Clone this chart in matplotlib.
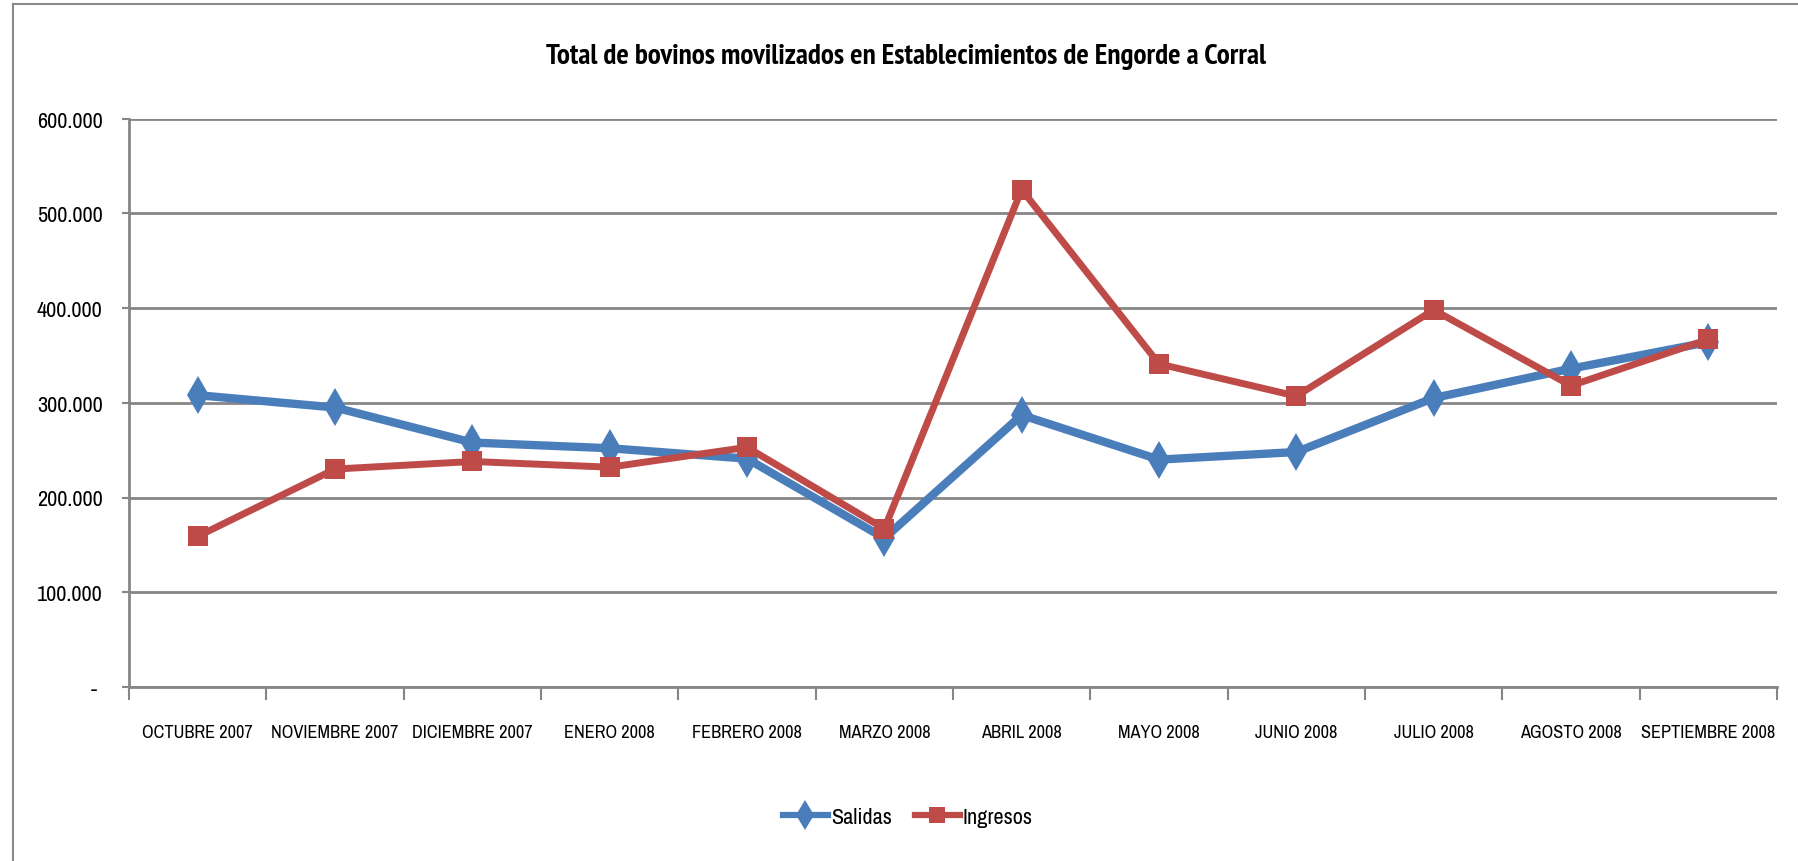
import matplotlib
matplotlib.use("Agg")
import matplotlib.pyplot as plt
from matplotlib import font_manager
from matplotlib.font_manager import FontProperties
from matplotlib.lines import Line2D
from matplotlib.ticker import FuncFormatter

categories = ["OCTUBRE 2007", "NOVIEMBRE 2007", "DICIEMBRE 2007", "ENERO 2008",
              "FEBRERO 2008", "MARZO 2008", "ABRIL 2008", "MAYO 2008",
              "JUNIO 2008", "JULIO 2008", "AGOSTO 2008", "SEPTIEMBRE 2008"]
salidas = [308000, 295000, 258000, 252000, 241000, 157000,
           287000, 240000, 248000, 305000, 336000, 364000]
ingresos = [159000, 230000, 238000, 232000, 253000, 167000,
            525000, 341000, 307000, 398000, 318000, 367000]
yticks = [0, 100000, 200000, 300000, 400000, 500000, 600000]


def find_narrow(bold):
    best = None
    for e in font_manager.fontManager.ttflist:
        tag = (e.name + " " + e.fname).lower()
        narrow = ("narrow" in tag or "condensed" in tag or
                  str(e.stretch) in ("condensed", "semi-condensed", "extra-condensed"))
        if not narrow or e.style != "normal":
            continue
        w = e.weight if isinstance(e.weight, int) else (700 if "bold" in str(e.weight) else 400)
        if bold != (w >= 600):
            continue
        score = 0
        if "liberation" in tag:
            score += 3
        if "narrow" in tag:
            score += 2
        if "semi" in tag or "extra" in tag or "ultra" in tag:
            score -= 2
        if best is None or score > best[0]:
            best = (score, e.fname)
    return best[1] if best else None


reg_file = find_narrow(False)
bold_file = find_narrow(True)


def fp(size, bold=False):
    f = bold_file if bold else reg_file
    if f:
        return FontProperties(fname=f, size=size)
    return FontProperties(family=["Liberation Sans", "DejaVu Sans"], size=size * 0.86,
                          weight="bold" if bold else "normal")


W, H = 1798, 862
fig = plt.figure(figsize=(W / 100, H / 100), dpi=100)
ax = fig.add_axes([129 / W, 1 - 688 / H, (1777 - 129) / W, (688 - 119.5) / H])

x = list(range(len(categories)))
blue = "#4A7EBB"
red = "#BE4B48"
ax.plot(x, salidas, color=blue, lw=6, marker="d", markersize=19,
        markeredgewidth=0, zorder=3, solid_joinstyle="miter")
ax.plot(x, ingresos, color=red, lw=5, marker="s", markersize=14.5,
        markeredgewidth=0, zorder=4, solid_joinstyle="miter")

ax.set_xlim(-0.5, len(categories) - 0.5)
ax.set_ylim(0, 600000)
ax.set_yticks(yticks)


def fmt(v, pos):
    if v == 0:
        return "- "
    return f"{int(v):,}".replace(",", ".")


ax.yaxis.set_major_formatter(FuncFormatter(fmt))
ax.set_xticks([i + 0.5 for i in range(-1, len(categories))], minor=False)
ax.set_xticklabels([""] * (len(categories) + 1))
ax.set_xticks(x, minor=True)
ax.set_xticklabels(categories, minor=True)
ax.tick_params(axis="x", which="major", length=9, width=1.5, color="#868686", direction="out")
ax.tick_params(axis="x", which="minor", length=0, pad=27)
ax.tick_params(axis="y", length=5, width=1.5, color="#868686", pad=14)
for lbl in ax.get_xticklabels(minor=True):
    lbl.set_fontproperties(fp(13.2))
for lbl in ax.get_yticklabels():
    lbl.set_fontproperties(fp(16))

ax.grid(axis="y", color="#868686", lw=2)
ax.set_axisbelow(True)
for s in ["top", "right"]:
    ax.spines[s].set_visible(False)
for s in ["left", "bottom"]:
    ax.spines[s].set_color("#868686")
    ax.spines[s].set_linewidth(2)

fig.text(906 / W, 1 - 57 / H, "Total de bovinos movilizados en Establecimientos de Engorde a Corral",
         ha="center", va="center", fontproperties=fp(21, bold=True))

handles = [Line2D([], [], color=blue, lw=4.5, marker="d", markersize=15, markeredgewidth=0),
           Line2D([], [], color=red, lw=4.5, marker="s", markersize=12, markeredgewidth=0)]
fig.legend(handles, ["Salidas", "Ingresos"], loc="center", bbox_to_anchor=(908 / W, 1 - 818 / H),
           ncol=2, frameon=False, prop=fp(16), handlelength=2.0, handletextpad=0.15,
           columnspacing=1.05)

# chart area border (left and top)
fig.add_artist(Line2D([12.5 / W, 12.5 / W], [0, 1 - 5 / H], color="#8a8a8a", lw=1.5,
                      transform=fig.transFigure))
fig.add_artist(Line2D([12.5 / W, 1], [1 - 5 / H, 1 - 5 / H], color="#8a8a8a", lw=1.5,
                      transform=fig.transFigure))

fig.savefig("out.png", dpi=100, facecolor="white")
